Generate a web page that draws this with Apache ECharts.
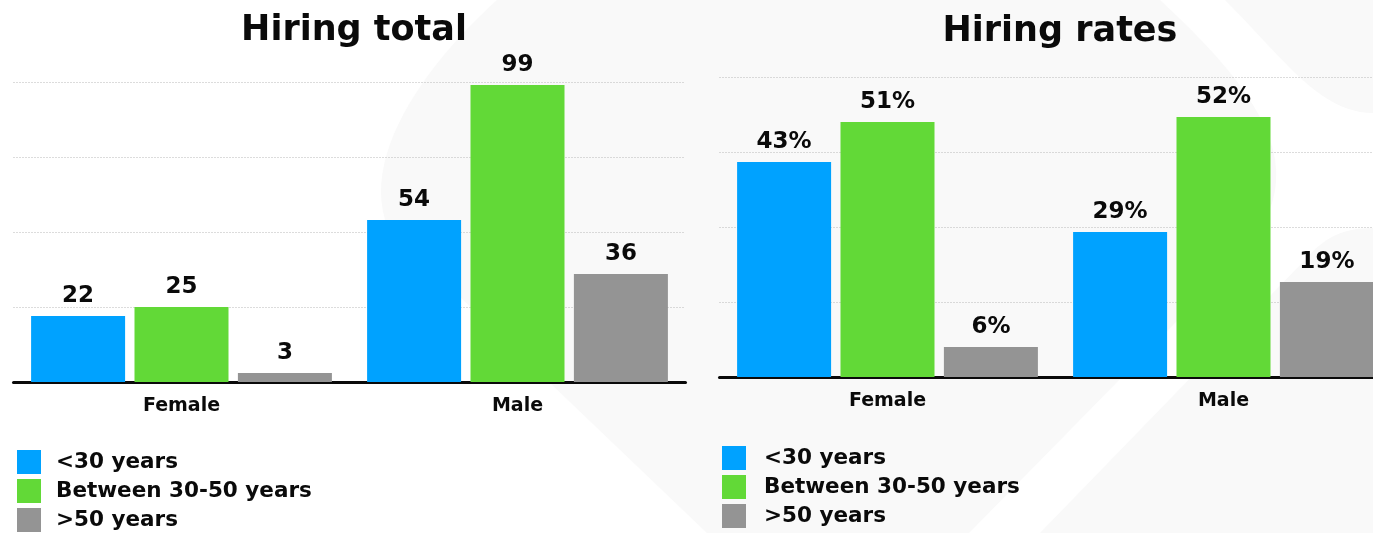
<!DOCTYPE html>
<html>
<head>
<meta charset="utf-8">
<title>Hiring total and hiring rates</title>
<script src="https://cdn.jsdelivr.net/npm/echarts@6/dist/echarts.min.js"></script>
<style>
  html, body { margin: 0; padding: 0; background: #ffffff; }
  #chart { width: 1373px; height: 533px; }
</style>
</head>
<body>
<div id="chart"></div>
<script>
// Categories and age groups
const genders = ['Female', 'Male'];
const ageGroups = ['<30 years', 'Between 30-50 years', '>50 years'];
const groupColors = ['#00a2ff', '#62d937', '#949494'];

// Hiring total (people), per age group: [Female, Male]
const totalUnder30 = [22, 54];
const total30to50 = [25, 99];
const totalOver50 = [3, 36];

// Hiring rates (%), per age group: [Female, Male]
const rateUnder30 = [43, 29];
const rate30to50 = [51, 52];
const rateOver50 = [6, 19];

const FONT = '"DejaVu Sans", sans-serif';
const INK = '#0a0a0a';

// Turns a list of straight / cubic segments into polygon points for the backdrop shapes.
function outline(start, segments) {
  const pts = [start];
  let cur = start;
  segments.forEach(function (seg) {
    if (seg.length === 1) {
      pts.push(seg[0]);
      cur = seg[0];
    } else {
      const p0 = cur, p1 = seg[0], p2 = seg[1], p3 = seg[2];
      for (let i = 1; i <= 24; i++) {
        const t = i / 24, u = 1 - t;
        pts.push([
          u * u * u * p0[0] + 3 * u * u * t * p1[0] + 3 * u * t * t * p2[0] + t * t * t * p3[0],
          u * u * u * p0[1] + 3 * u * u * t * p1[1] + 3 * u * t * t * p2[1] + t * t * t * p3[1]
        ]);
      }
      cur = p3;
    }
  });
  return pts;
}

const chart = echarts.init(document.getElementById('chart'), null, { renderer: 'canvas' });

function barSeries(name, data, color, axisIndex, suffix) {
  return {
    name: name,
    type: 'bar',
    xAxisIndex: axisIndex,
    yAxisIndex: axisIndex,
    data: data,
    barWidth: 94,
    barGap: '10%',
    itemStyle: { color: color },
    label: {
      show: true,
      position: 'top',
      distance: 8,
      formatter: '{c}' + suffix,
      color: INK,
      fontFamily: FONT,
      fontWeight: 'bold',
      fontSize: 23
    },
    emphasis: { disabled: true }
  };
}

function catAxis(gridIndex) {
  return {
    type: 'category',
    gridIndex: gridIndex,
    data: genders,
    axisTick: { show: false },
    axisLine: { show: true, lineStyle: { color: INK, width: 3 } },
    axisLabel: { color: INK, fontFamily: FONT, fontWeight: 'bold', fontSize: 19, margin: 15 },
    splitLine: { show: false }
  };
}

function valAxis(gridIndex, max, interval) {
  return {
    type: 'value',
    gridIndex: gridIndex,
    min: 0,
    max: max,
    interval: interval,
    axisLabel: { show: false },
    axisLine: { show: false },
    axisTick: { show: false },
    splitLine: { show: true, lineStyle: { color: '#b8b8b8', width: 1, type: [1, 2] } }
  };
}

function legendAt(left, top, textGap) {
  return {
    orient: 'vertical',
    left: left,
    top: top,
    padding: 0,
    data: ageGroups,
    icon: 'rect',
    itemWidth: 24,
    itemHeight: 24,
    itemGap: 5,
    selectedMode: false,
    textStyle: { color: INK, fontFamily: FONT, fontWeight: 'bold', fontSize: 21.5, padding: [0, 0, 0, textGap] }
  };
}

const greyBlob = outline([497, 0], [
  [[420, 70], [360, 160], [388, 228]],
  [[707, 533]],
  [[1373, 533]],
  [[1373, 0]]
]);

const whiteBand = outline([1160, 0], [
  [[1225, 0]],
  [[1285, 60], [1320, 113], [1373, 113]],
  [[1373, 228]],
  [[1345, 228], [1325, 236], [1305, 260]],
  [[1040, 533]],
  [[969, 533]],
  [[1225, 272]],
  [[1310, 190], [1290, 120], [1160, 0]]
]);

const option = {
  backgroundColor: '#ffffff',
  animation: false,
  graphic: [
    {
      type: 'polygon',
      z: -20,
      silent: true,
      shape: { points: greyBlob },
      style: { fill: '#f9f9f9' }
    },
    {
      type: 'polygon',
      z: -19,
      silent: true,
      shape: { points: whiteBand },
      style: { fill: '#ffffff' }
    }
  ],
  title: [
    {
      text: 'Hiring total',
      left: 349, top: 8, textAlign: 'center',
      textStyle: { color: INK, fontFamily: FONT, fontWeight: 'bold', fontSize: 35 }
    },
    {
      text: 'Hiring rates',
      left: 1055, top: 9, textAlign: 'center',
      textStyle: { color: INK, fontFamily: FONT, fontWeight: 'bold', fontSize: 35 }
    }
  ],
  legend: [legendAt(17, 450, 10), legendAt(722, 446, 13)],
  grid: [
    { left: 13.5, top: 82, width: 672, height: 300, outerBoundsMode: 'none' },
    { left: 719.5, top: 77, width: 672, height: 300, outerBoundsMode: 'none' }
  ],
  xAxis: [catAxis(0), catAxis(1)],
  yAxis: [valAxis(0, 100, 25), valAxis(1, 60, 15)],
  series: [
    barSeries(ageGroups[0], totalUnder30, groupColors[0], 0, ''),
    barSeries(ageGroups[1], total30to50, groupColors[1], 0, ''),
    barSeries(ageGroups[2], totalOver50, groupColors[2], 0, ''),
    barSeries(ageGroups[0], rateUnder30, groupColors[0], 1, '%'),
    barSeries(ageGroups[1], rate30to50, groupColors[1], 1, '%'),
    barSeries(ageGroups[2], rateOver50, groupColors[2], 1, '%')
  ]
};

chart.setOption(option);
</script>
</body>
</html>
